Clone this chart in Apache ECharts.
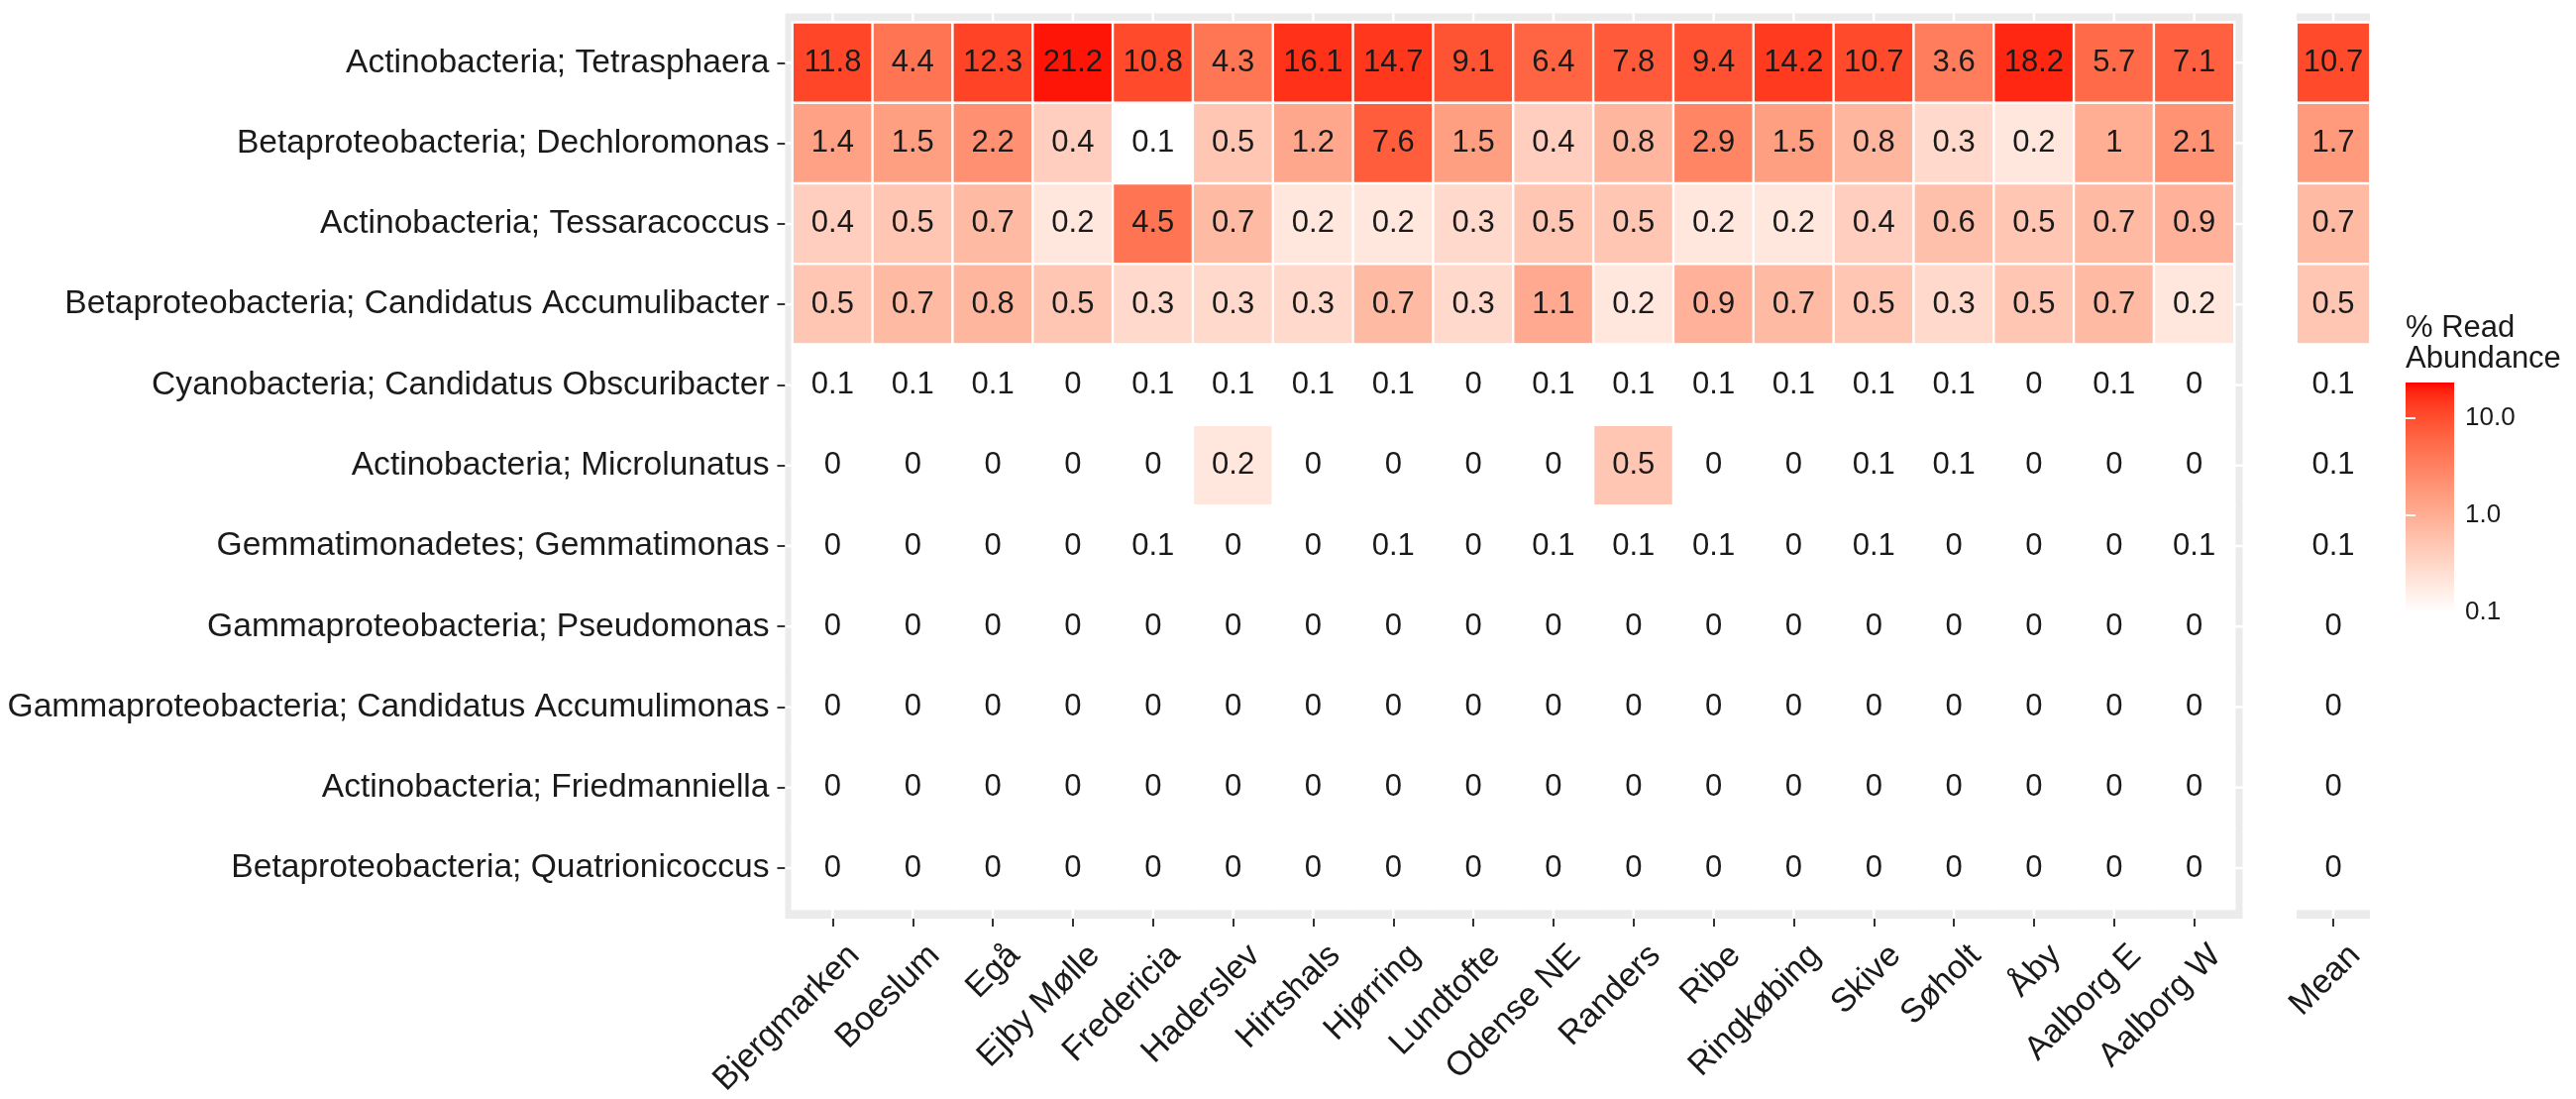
<!DOCTYPE html>
<html><head><meta charset="utf-8">
<script src="https://cdn.jsdelivr.net/npm/echarts@6/dist/echarts.min.js"></script>
<style>html,body{margin:0;padding:0;background:#fff}#c{width:2600px;height:1109px}</style>
</head><body><div id="c"></div>
<script>
// ---------- data ----------
const plants = ['Bjergmarken','Boeslum','Egå','Ejby Mølle','Fredericia','Haderslev','Hirtshals','Hjørring','Lundtofte','Odense NE','Randers','Ribe','Ringkøbing','Skive','Søholt','Åby','Aalborg E','Aalborg W'];
const taxa = [
  'Actinobacteria; Tetrasphaera',
  'Betaproteobacteria; Dechloromonas',
  'Actinobacteria; Tessaracoccus',
  'Betaproteobacteria; Candidatus Accumulibacter',
  'Cyanobacteria; Candidatus Obscuribacter',
  'Actinobacteria; Microlunatus',
  'Gemmatimonadetes; Gemmatimonas',
  'Gammaproteobacteria; Pseudomonas',
  'Gammaproteobacteria; Candidatus Accumulimonas',
  'Actinobacteria; Friedmanniella',
  'Betaproteobacteria; Quatrionicoccus'
];
const tetrasphaera   = [11.8,4.4,12.3,21.2,10.8,4.3,16.1,14.7,9.1,6.4,7.8,9.4,14.2,10.7,3.6,18.2,5.7,7.1];
const dechloromonas  = [1.4,1.5,2.2,0.4,0.1,0.5,1.2,7.6,1.5,0.4,0.8,2.9,1.5,0.8,0.3,0.2,1,2.1];
const tessaracoccus  = [0.4,0.5,0.7,0.2,4.5,0.7,0.2,0.2,0.3,0.5,0.5,0.2,0.2,0.4,0.6,0.5,0.7,0.9];
const accumulibacter = [0.5,0.7,0.8,0.5,0.3,0.3,0.3,0.7,0.3,1.1,0.2,0.9,0.7,0.5,0.3,0.5,0.7,0.2];
const obscuribacter  = [0.1,0.1,0.1,0,0.1,0.1,0.1,0.1,0,0.1,0.1,0.1,0.1,0.1,0.1,0,0.1,0];
const microlunatus   = [0,0,0,0,0,0.2,0,0,0,0,0.5,0,0,0.1,0.1,0,0,0];
const gemmatimonas   = [0,0,0,0,0.1,0,0,0.1,0,0.1,0.1,0.1,0,0.1,0,0,0,0.1];
const pseudomonas    = [0,0,0,0,0,0,0,0,0,0,0,0,0,0,0,0,0,0];
const accumulimonas  = [0,0,0,0,0,0,0,0,0,0,0,0,0,0,0,0,0,0];
const friedmanniella = [0,0,0,0,0,0,0,0,0,0,0,0,0,0,0,0,0,0];
const quatrionicoccus= [0,0,0,0,0,0,0,0,0,0,0,0,0,0,0,0,0,0];
const meanValues     = [10.7,1.7,0.7,0.5,0.1,0.1,0.1,0,0,0,0];
const meanLabel      = ['Mean'];
const legendTicks    = [0.1, 1.0, 10.0];
const scaleMin = 0.1, scaleMax = 23.3;   // colour-bar limits
const legendTitle = '% Read\nAbundance';

const rowsData = [tetrasphaera, dechloromonas, tessaracoccus, accumulibacter, obscuribacter,
  microlunatus, gemmatimonas, pseudomonas, accumulimonas, friedmanniella, quatrionicoccus];

// ---------- colour scale (white -> red, log10, CIELAB interpolation) ----------
function labToHex(L, a, b) {
  const fy = (L + 16) / 116, fx = fy + a / 500, fz = fy - b / 200;
  const f = t => (t * t * t > 0.008856 ? t * t * t : (t - 16 / 116) / 7.787);
  const X = 0.95047 * f(fx), Y = 1.0 * f(fy), Z = 1.08883 * f(fz);
  let r = 3.2406 * X - 1.5372 * Y - 0.4986 * Z;
  let g = -0.9689 * X + 1.8758 * Y + 0.0415 * Z;
  let bl = 0.0557 * X - 0.2040 * Y + 1.0570 * Z;
  const gam = c => { c = c <= 0.0031308 ? 12.92 * c : 1.055 * Math.pow(c, 1 / 2.4) - 0.055; return Math.round(Math.max(0, Math.min(1, c)) * 255); };
  return '#' + [gam(r), gam(g), gam(bl)].map(v => v.toString(16).padStart(2, '0')).join('');
}
const LOW = [100, 0, 0], HIGH = [53.2408, 80.0925, 67.2032];
const LMIN = Math.log10(scaleMin), LMAX = Math.log10(scaleMax);
function colorAtT(t) {
  t = Math.max(0, Math.min(1, t));
  return labToHex(LOW[0] + (HIGH[0] - LOW[0]) * t, LOW[1] + (HIGH[1] - LOW[1]) * t, LOW[2] + (HIGH[2] - LOW[2]) * t);
}
function fillColor(v) {
  if (!(v > 0)) return '#ffffff';
  return colorAtT((Math.log10(v) - LMIN) / (LMAX - LMIN));
}

// ---------- layout ----------
const FONT = "'Liberation Sans', Arial, Helvetica, sans-serif";
const TXT = '#1a1a1a';
const tile = { left: 800, top: 22.7, width: 1455, height: 894 };
const bg = { left: 792.5, top: 13.5, right: 2263.5, bottom: 927 };
const meanTile = { left: 2318, width: 74 };
const legendBox = { left: 2428, top: 386, width: 49, height: 232 };

const pitchX = tile.width / plants.length, pitchY = tile.height / taxa.length;
const bgXmin = -0.5 - (tile.left - bg.left) / pitchX;
const bgXmax = plants.length - 0.5 + (bg.right - (tile.left + tile.width)) / pitchX;
const bgYmin = -0.5 - (tile.top - bg.top) / pitchY;
const bgYmax = taxa.length - 0.5 + (bg.bottom - (tile.top + tile.height)) / pitchY;
const xOffset = bg.bottom - (tile.top + tile.height);
const yOffset = tile.left - bg.left;

const mainData = [];
rowsData.forEach((row, r) => row.forEach((v, c) => mainData.push({ value: [c, r, v], itemStyle: { color: fillColor(v) } })));
const meanData = meanValues.map((v, r) => ({ value: [0, r, v], itemStyle: { color: fillColor(v) } }));

const gradStops = [];
for (let i = 0; i <= 40; i++) gradStops.push({ offset: i / 40, color: colorAtT(1 - i / 40) });

const tileLabel = { show: true, color: TXT, fontSize: 31, fontFamily: FONT, formatter: p => String(p.value[2]) };
const xLabelCommon = { interval: 0, rotate: 45, align: 'right', verticalAlign: 'top', margin: 30, padding: [0, -14, 0, 0], fontSize: 34, color: TXT, fontFamily: FONT };
const tickStyle = { show: true, alignWithLabel: true, length: 8, lineStyle: { color: '#333', width: 2 } };

const chart = echarts.init(document.getElementById('c'), null, { renderer: 'canvas', width: 2600, height: 1109 });
chart.setOption({
  animation: false,
  backgroundColor: '#ffffff',
  title: { text: legendTitle, left: legendBox.left, top: 316, padding: 0,
    textStyle: { fontSize: 31, lineHeight: 31, fontWeight: 'normal', color: TXT, fontFamily: FONT } },
  grid: [
    { left: bg.left, top: bg.top, width: bg.right - bg.left, height: bg.bottom - bg.top, show: true, backgroundColor: '#ebebeb', borderWidth: 0, containLabel: false, outerBoundsMode: 'none' },
    { left: tile.left, top: tile.top, width: tile.width, height: tile.height, containLabel: false, outerBoundsMode: 'none' },
    { left: meanTile.left, top: bg.top, width: meanTile.width, height: bg.bottom - bg.top, show: true, backgroundColor: '#ebebeb', borderWidth: 0, containLabel: false, outerBoundsMode: 'none' },
    { left: meanTile.left, top: tile.top, width: meanTile.width, height: tile.height, containLabel: false, outerBoundsMode: 'none' },
    { left: legendBox.left, top: legendBox.top, width: legendBox.width, height: legendBox.height, containLabel: false, outerBoundsMode: 'none' }
  ],
  xAxis: [
    { gridIndex: 0, type: 'value', min: bgXmin, max: bgXmax, show: false },
    { gridIndex: 1, type: 'category', data: plants, offset: xOffset, axisLine: { show: false }, axisTick: tickStyle, axisLabel: xLabelCommon, splitLine: { show: false } },
    { gridIndex: 2, type: 'value', min: -0.5, max: 0.5, show: false },
    { gridIndex: 3, type: 'category', data: meanLabel, offset: xOffset, axisLine: { show: false }, axisTick: tickStyle, axisLabel: xLabelCommon, splitLine: { show: false } },
    { gridIndex: 4, type: 'value', min: 0, max: 1, show: false }
  ],
  yAxis: [
    { gridIndex: 0, type: 'value', min: bgYmin, max: bgYmax, inverse: true, show: false },
    { gridIndex: 1, type: 'category', data: taxa, inverse: true, offset: yOffset, axisLine: { show: false }, axisTick: tickStyle,
      axisLabel: { interval: 0, margin: 16, fontSize: 33.6, color: TXT, fontFamily: FONT }, splitLine: { show: false } },
    { gridIndex: 2, type: 'value', min: bgYmin, max: bgYmax, inverse: true, show: false },
    { gridIndex: 3, type: 'category', data: taxa, inverse: true, show: false },
    { gridIndex: 4, type: 'value', min: LMIN, max: LMAX, position: 'right', z: 10,
      axisLine: { show: false }, splitLine: { show: false },
      axisTick: { show: true, inside: true, length: 10, lineStyle: { color: '#ffffff', width: 2 }, customValues: legendTicks.map(Math.log10) },
      axisLabel: { show: true, margin: 11, fontSize: 26, color: TXT, fontFamily: FONT, customValues: legendTicks.map(Math.log10),
        formatter: v => Math.pow(10, v).toFixed(1) } },
    { gridIndex: 4, type: 'value', min: LMIN, max: LMAX, position: 'left', z: 10,
      axisLine: { show: false }, splitLine: { show: false }, axisLabel: { show: false },
      axisTick: { show: true, inside: true, length: 10, lineStyle: { color: '#ffffff', width: 2 }, customValues: legendTicks.map(Math.log10) } }
  ],
  series: [
    { type: 'custom', xAxisIndex: 0, yAxisIndex: 0, z: 1, silent: true,
      data: plants.map((p, i) => [i, 0]),
      renderItem: (params, api) => { const a = api.coord([api.value(0), bgYmin]), b = api.coord([api.value(0), bgYmax]);
        return { type: 'line', shape: { x1: a[0], y1: a[1], x2: b[0], y2: b[1] }, style: { stroke: '#ffffff', lineWidth: 2.5 } }; } },
    { type: 'custom', xAxisIndex: 0, yAxisIndex: 0, z: 1, silent: true,
      data: taxa.map((t, j) => [0, j]),
      renderItem: (params, api) => { const a = api.coord([bgXmin, api.value(1)]), b = api.coord([bgXmax, api.value(1)]);
        return { type: 'line', shape: { x1: a[0], y1: a[1], x2: b[0], y2: b[1] }, style: { stroke: '#ffffff', lineWidth: 2.5 } }; } },
    { type: 'custom', xAxisIndex: 2, yAxisIndex: 2, z: 1, silent: true,
      data: meanLabel.map((m, i) => [i, 0]),
      renderItem: (params, api) => { const a = api.coord([api.value(0), bgYmin]), b = api.coord([api.value(0), bgYmax]);
        return { type: 'line', shape: { x1: a[0], y1: a[1], x2: b[0], y2: b[1] }, style: { stroke: '#ffffff', lineWidth: 2.5 } }; } },
    { type: 'heatmap', xAxisIndex: 1, yAxisIndex: 1, z: 2, data: mainData, label: tileLabel,
      itemStyle: { borderColor: '#ffffff', borderWidth: 2.4 }, emphasis: { disabled: true } },
    { type: 'heatmap', xAxisIndex: 3, yAxisIndex: 3, z: 2, data: meanData, label: tileLabel,
      itemStyle: { borderColor: '#ffffff', borderWidth: 2.4 }, emphasis: { disabled: true } },
    { type: 'custom', xAxisIndex: 4, yAxisIndex: 4, z: 2, silent: true,
      data: [[0, LMIN]],
      renderItem: (params, api) => { const a = api.coord([0, LMAX]), b = api.coord([1, LMIN]);
        return { type: 'rect', shape: { x: a[0], y: a[1], width: b[0] - a[0], height: b[1] - a[1] },
          style: { fill: new echarts.graphic.LinearGradient(0, 0, 0, 1, gradStops) } }; } }
  ]
});
</script></body></html>
